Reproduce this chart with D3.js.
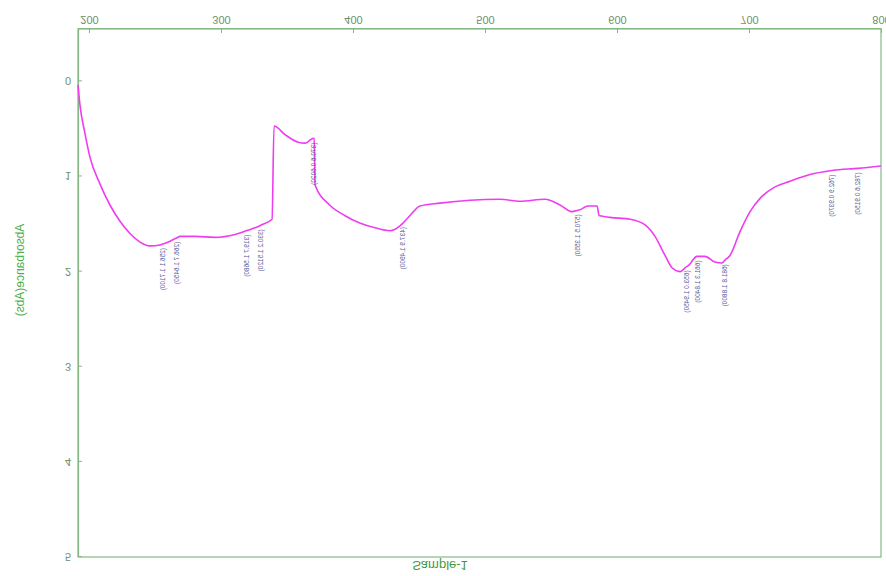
<!DOCTYPE html>
<html>
<head>
<meta charset="utf-8">
<script src="https://cdn.jsdelivr.net/npm/d3@7"></script>
<style>
  html, body { margin: 0; padding: 0; background: #fff; }
  svg { display: block; font-family: "Liberation Sans", Arial, sans-serif; }
</style>
</head>
<body>
<div id="chart"></div>
<script>
// UV-Vis absorbance spectrum, Sample-1
const wavelength = [191.7, 193.2, 197.0, 200.8, 208.4, 215.9, 223.5, 231.1, 238.7, 246.2,
  253.8, 261.4, 269.0, 280.3, 295.5, 310.6, 325.8, 338.7, 340.2, 348.5,
  358.4, 363.7, 369.8, 371.3, 382.3, 393.7, 405.1, 416.7, 428.0, 435.6,
  443.2, 450.8, 465.9, 488.6, 511.4, 526.5, 545.5, 556.8, 565.9, 572.0,
  578.0, 584.9, 586.4, 594.7, 609.9, 621.3, 628.8, 636.4, 641.7, 647.8,
  653.8, 660.6, 666.7, 674.3, 679.6, 685.6, 693.2, 700.8, 708.4, 719.7,
  731.1, 746.3, 761.4, 776.6, 800.0];
const absorbance = [0.04, 0.25, 0.55, 0.80, 1.08, 1.30, 1.47, 1.60, 1.69, 1.73,
  1.72, 1.68, 1.63, 1.63, 1.64, 1.61, 1.54, 1.45, 0.47, 0.56,
  0.64, 0.65, 0.60, 1.09, 1.30, 1.41, 1.49, 1.54, 1.57, 1.52,
  1.41, 1.31, 1.28, 1.25, 1.24, 1.26, 1.24, 1.30, 1.37, 1.35,
  1.31, 1.31, 1.41, 1.43, 1.45, 1.51, 1.63, 1.83, 1.96, 2.00,
  1.94, 1.84, 1.84, 1.90, 1.91, 1.83, 1.58, 1.37, 1.23, 1.11,
  1.05, 0.98, 0.94, 0.92, 0.89];

// annotated peak positions (wavelength nm, absorbance)
const peakWavelength = [256.1, 266.7, 319.7, 330.2, 370.6, 437.9, 570.5, 653.0, 661.3, 681.8, 762.9, 782.6];
const peakAbsorbance = [1.7100, 1.6450, 1.5680, 1.5120, 0.6020, 1.4900, 1.3550, 1.9450, 1.8400, 1.8800, 0.9370, 0.9150];

const xTicks = [200, 300, 400, 500, 600, 700, 800];
const yTicks = [0, 1, 2, 3, 4, 5];

const W = 886, H = 576;
const plot = { left: 78, right: 881, top: 19, bottom: 547 };

const x = d3.scaleLinear().domain([191.7, 800]).range([plot.left, plot.right]);
const y = d3.scaleLinear().domain([-0.55, 5]).range([plot.bottom, plot.top]);

const svg = d3.select("#chart").append("svg")
  .attr("width", W).attr("height", H);

// the whole plot is rendered mirrored top-to-bottom
const g = svg.append("g").attr("transform", `translate(0,${H}) scale(1,-1)`);

const axisColor = "#86b886";

g.append("rect")
  .attr("x", plot.left).attr("y", plot.top)
  .attr("width", plot.right - plot.left).attr("height", plot.bottom - plot.top)
  .attr("fill", "none").attr("stroke", axisColor).attr("stroke-width", 1.2);

const xAxis = g.append("g")
  .attr("transform", `translate(0,${plot.bottom})`)
  .call(d3.axisBottom(x).tickValues(xTicks).tickFormat(d3.format("d"))
    .tickSizeInner(-4).tickSizeOuter(0).tickPadding(5));
const yAxis = g.append("g")
  .attr("transform", `translate(${plot.left},0)`)
  .call(d3.axisLeft(y).tickValues(yTicks).tickFormat(d3.format("d"))
    .tickSizeInner(-4).tickSizeOuter(0).tickPadding(7));

[xAxis, yAxis].forEach(a => {
  a.select(".domain").attr("stroke", axisColor).attr("stroke-width", 1.2);
  a.selectAll(".tick line").attr("stroke", axisColor);
  a.selectAll(".tick text").attr("fill", "#6f8f6f").attr("font-size", 11);
});

// spectrum: measured points plus annotated peaks
const points = wavelength.map((w, i) => [w, absorbance[i]])
  .concat(peakWavelength.map((w, i) => [w, peakAbsorbance[i]]))
  .sort((a, b) => a[0] - b[0]);

const line = d3.line()
  .x(d => x(d[0]))
  .y(d => y(d[1]))
  .curve(d3.curveMonotoneX);

g.append("path")
  .datum(points)
  .attr("fill", "none")
  .attr("stroke", "#f03cf0")
  .attr("stroke-width", 1.6)
  .attr("d", line);

// peak annotations, vertical
g.selectAll("text.peak")
  .data(peakWavelength.map((w, i) => [w, peakAbsorbance[i]]))
  .join("text")
  .attr("class", "peak")
  .attr("transform", d => `translate(${x(d[0]) + 2},${y(d[1]) - 4}) rotate(-90)`)
  .attr("text-anchor", "start")
  .attr("font-size", 6.5)
  .attr("fill", "#5a5a9a")
  .text(d => `(${d[0].toFixed(1)} ${d[1].toFixed(4)})`);

// titles
g.append("text")
  .attr("x", 440).attr("y", 15)
  .attr("text-anchor", "middle")
  .attr("font-size", 13)
  .attr("fill", "#3f9a3f")
  .text("Sample-1");

g.append("text")
  .attr("transform", `translate(24,${H - 270}) rotate(-90)`)
  .attr("text-anchor", "middle")
  .attr("font-size", 12)
  .attr("fill", "#4cae4c")
  .text("Absorbance(Abs)");
</script>
</body>
</html>
